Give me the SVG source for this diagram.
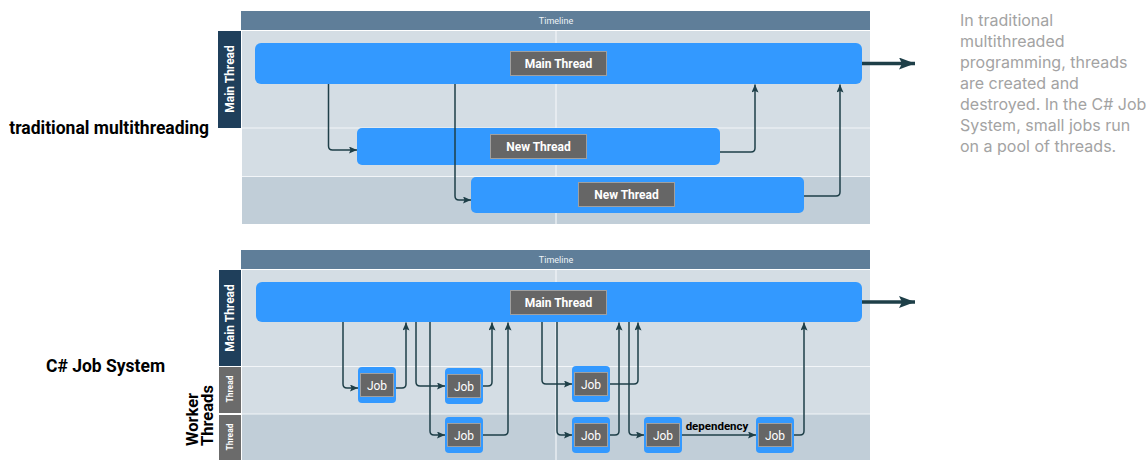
<svg xmlns="http://www.w3.org/2000/svg" width="1148" height="460" viewBox="0 0 1148 460">
<defs>
<style>
.lane{fill:#d4dde4}
.lane2{fill:#c1ced8}
.hdr{fill:#5f7e99}
.hdrt{font-family:Roboto,"Liberation Sans",sans-serif;font-size:9px;fill:#eef3f7;text-anchor:middle}
.vlab{fill:#1f3f5b}
.tlab{fill:#6b6b6b}
.vt{font-family:Roboto,"Liberation Sans",sans-serif;font-weight:bold;fill:#fff;text-anchor:middle;dominant-baseline:central}
.bar{fill:#3399ff}
.box{fill:#666;stroke:#a0a0a0;stroke-width:1}
.bt{font-family:Roboto,"Liberation Sans",sans-serif;font-weight:bold;font-size:12px;fill:#fff;text-anchor:middle}
.jt{font-family:Roboto,"Liberation Sans",sans-serif;font-size:12px;fill:#fff;text-anchor:middle}
.sep{stroke:#f2f5f8;stroke-width:1.2}
.con{fill:none;stroke:#1e3f48;stroke-width:1.5;marker-end:url(#ah)}
.big{fill:none;stroke:#1e3f48;stroke-width:3.5;marker-end:url(#bh)}
.side{font-family:Roboto,"Liberation Sans",sans-serif;font-weight:bold;font-size:17.5px;fill:#000}
.wt{font-family:Roboto,"Liberation Sans",sans-serif;font-weight:bold;font-size:16.5px;fill:#000}
.note{font-family:Inter,"Liberation Sans",sans-serif;font-size:16px;fill:#a3a3a3}
</style>
<marker id="ah" markerUnits="userSpaceOnUse" markerWidth="9" markerHeight="8" refX="8" refY="3.5" orient="auto">
<path d="M0,0 L8,3.5 L0,7 L1.5,3.5 z" fill="#1e3f48"/>
</marker>
<marker id="bh" markerUnits="userSpaceOnUse" markerWidth="17" markerHeight="13" refX="16" refY="6" orient="auto">
<path d="M0,0 L16,6 L0,12 L3,6 z" fill="#1e3f48"/>
</marker>
</defs>
<rect width="1148" height="460" fill="#fff"/>

<g id="top-panel">
<rect class="hdr" x="241" y="11" width="629" height="19"/>
<text class="hdrt" x="556" y="24">Timeline</text>
<rect class="lane" x="242" y="31" width="628" height="97"/>
<rect class="lane" x="242" y="128" width="628" height="49"/>
<rect class="lane2" x="242" y="177" width="628" height="47"/>
<line class="sep" x1="242" y1="128" x2="870" y2="128"/>
<line class="sep" x1="242" y1="176.5" x2="870" y2="176.5"/>
<line class="sep" x1="556" y1="31" x2="556" y2="224"/>
<rect class="vlab" x="218" y="31" width="23" height="97"/>
<text class="vt" font-size="12" transform="translate(229.5,79) rotate(-90)">Main Thread</text>
</g>
<text class="side" x="209" y="134" text-anchor="end">traditional multithreading</text>

<g id="bottom-panel">
<rect class="hdr" x="241" y="250" width="629" height="19"/>
<text class="hdrt" x="556" y="263">Timeline</text>
<rect class="lane" x="242" y="270" width="628" height="97"/>
<rect class="lane" x="242" y="367" width="628" height="47"/>
<rect class="lane2" x="242" y="414" width="628" height="46"/>
<line class="sep" x1="242" y1="366.5" x2="870" y2="366.5"/>
<line class="sep" x1="242" y1="414" x2="870" y2="414"/>
<line class="sep" x1="556" y1="270" x2="556" y2="460"/>
<rect class="vlab" x="219" y="270" width="22" height="96"/>
<text class="vt" font-size="12" transform="translate(230,318) rotate(-90)">Main Thread</text>
<rect class="tlab" x="219" y="367" width="22" height="46"/>
<text class="vt" font-size="8.5" transform="translate(230,389) rotate(-90)">Thread</text>
<rect class="tlab" x="219" y="415" width="22" height="45"/>
<text class="vt" font-size="8.5" transform="translate(230,437) rotate(-90)">Thread</text>
</g>
<text class="side" x="46" y="372">C# Job System</text>
<text class="wt" transform="translate(198,446) rotate(-90)">Worker</text>
<text class="wt" transform="translate(213,446) rotate(-90)">Threads</text>

<g id="top-main">
<rect class="bar" x="255" y="43" width="607" height="41" rx="6"/>
<rect class="box" x="510.5" y="51.5" width="96" height="24"/>
<text class="bt" x="558.5" y="68">Main Thread</text>
</g>
<g id="top-new1">
<rect class="bar" x="357" y="128" width="363" height="37" rx="5"/>
<rect class="box" x="490.5" y="134.5" width="96" height="24"/>
<text class="bt" x="538.5" y="151">New Thread</text>
</g>
<g id="top-new2">
<rect class="bar" x="471" y="177" width="333" height="36" rx="5"/>
<rect class="box" x="578.5" y="182.5" width="96" height="24"/>
<text class="bt" x="626.5" y="199">New Thread</text>
</g>

<g id="bot-main">
<rect class="bar" x="256" y="282" width="606" height="40" rx="6"/>
<rect class="box" x="510.5" y="290.5" width="96" height="24"/>
<text class="bt" x="558.5" y="307">Main Thread</text>
</g>
<g id="jobA">
<rect class="bar" x="358" y="367" width="38" height="36" rx="4"/>
<rect class="box" x="360.5" y="373.5" width="33" height="23"/>
<text class="jt" x="377" y="389.5">Job</text>
</g>
<g id="jobB">
<rect class="bar" x="445" y="368" width="38" height="36" rx="4"/>
<rect class="box" x="447.5" y="374.5" width="33" height="23"/>
<text class="jt" x="464" y="390.5">Job</text>
</g>
<g id="jobD">
<rect class="bar" x="572" y="366" width="38" height="36" rx="4"/>
<rect class="box" x="574.5" y="372.5" width="33" height="23"/>
<text class="jt" x="591" y="388.5">Job</text>
</g>
<g id="jobC">
<rect class="bar" x="445" y="417" width="38" height="36" rx="4"/>
<rect class="box" x="447.5" y="423.5" width="33" height="23"/>
<text class="jt" x="464" y="439.5">Job</text>
</g>
<g id="jobE">
<rect class="bar" x="572" y="417" width="38" height="36" rx="4"/>
<rect class="box" x="574.5" y="423.5" width="33" height="23"/>
<text class="jt" x="591" y="439.5">Job</text>
</g>
<g id="jobF">
<rect class="bar" x="644" y="417" width="38" height="36" rx="4"/>
<rect class="box" x="646.5" y="423.5" width="33" height="23"/>
<text class="jt" x="663" y="439.5">Job</text>
</g>
<g id="jobG">
<rect class="bar" x="756" y="417" width="38" height="36" rx="4"/>
<rect class="box" x="758.5" y="423.5" width="33" height="23"/>
<text class="jt" x="775" y="439.5">Job</text>
</g>

<g id="connectors">
<path class="con" d="M328.5,84 V146 Q328.5,150 332.5,150 H357"/>
<path class="con" d="M455,84 V196 Q455,200 459,200 H471"/>
<path class="con" d="M720,152 H751 Q755,152 755,148 V84.5"/>
<path class="con" d="M804,196 H836 Q840,196 840,192 V84.5"/>
<path class="big" d="M862,63.5 H915"/>

<path class="con" d="M343,322 V384 Q343,388 347,388 H358"/>
<path class="con" d="M396,388 H402 Q406,388 406,384 V322.5"/>
<path class="con" d="M416,322 V382 Q416,386 420,386 H445"/>
<path class="con" d="M430,322 V431 Q430,435 434,435 H445"/>
<path class="con" d="M483,386 H488 Q492,386 492,382 V322.5"/>
<path class="con" d="M483,435 H504 Q508,435 508,431 V322.5"/>
<path class="con" d="M542,322 V380 Q542,384 546,384 H572"/>
<path class="con" d="M557,322 V431 Q557,435 561,435 H572"/>
<path class="con" d="M610,435 H615 Q619,435 619,431 V322.5"/>
<path class="con" d="M610,384 H634 Q638,384 638,380 V322.5"/>
<path class="con" d="M629,322 V431 Q629,435 633,435 H644"/>
<path class="con" d="M682,435 H756"/>
<path class="con" d="M794,435 H800 Q804,435 804,431 V322.5"/>
<path class="big" d="M862,302 H915"/>
<text x="717" y="429.5" font-family="Roboto,'Liberation Sans',sans-serif" font-weight="bold" font-size="11.5" text-anchor="middle" fill="#000">dependency</text>
</g>

<g id="note">
<text class="note" x="960" y="25.5">In traditional</text>
<text class="note" x="960" y="46.5">multithreaded</text>
<text class="note" x="960" y="67.5">programming, threads</text>
<text class="note" x="960" y="88.5">are created and</text>
<text class="note" x="960" y="109.5">destroyed. In the C# Job</text>
<text class="note" x="960" y="130.5">System, small jobs run</text>
<text class="note" x="960" y="151.5">on a pool of threads.</text>
</g>
</svg>
